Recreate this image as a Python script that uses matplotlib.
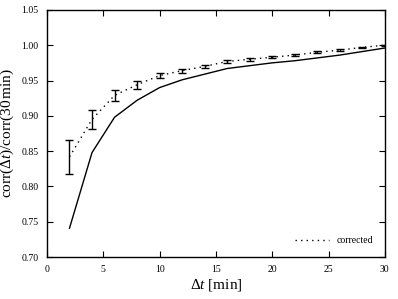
import matplotlib
matplotlib.use("Agg")
import matplotlib.pyplot as plt

dt = [2, 4, 6, 8, 10, 12, 14, 16, 18, 20, 22, 24, 26, 28, 30]
raw = [0.741, 0.848, 0.898, 0.922, 0.940, 0.951, 0.959, 0.967, 0.971, 0.975, 0.978, 0.982, 0.986, 0.991, 0.996]
corrected = [0.842, 0.895, 0.929, 0.944, 0.957, 0.964, 0.970, 0.977, 0.980, 0.983, 0.986, 0.990, 0.993, 0.997, 1.000]
err = [0.024, 0.013, 0.008, 0.0055, 0.004, 0.003, 0.0025, 0.002, 0.002, 0.0018, 0.0015, 0.0013, 0.001, 0.001, 0.0005]

plt.rcParams['font.family'] = ['Liberation Serif', 'DejaVu Serif']
plt.rcParams['mathtext.fontset'] = 'custom'
plt.rcParams['mathtext.rm'] = 'Liberation Serif'
plt.rcParams['mathtext.it'] = 'Liberation Serif:italic'

fig = plt.figure(figsize=(3.98, 2.99), dpi=100)
ax = fig.add_axes([0.118, 0.140, 0.849, 0.827])

ax.plot(dt, raw, color='black', lw=1.0, ls='-')
ax.plot(dt, corrected, color='black', lw=1.0, ls=(0, (1, 3)), label='corrected')
ax.errorbar(dt, corrected, yerr=err, fmt='none', ecolor='black', elinewidth=1.0, capsize=3, capthick=1.0)

ax.set_xlim(0, 30)
ax.set_ylim(0.70, 1.05)
ax.set_xticks([0, 5, 10, 15, 20, 25, 30])
ax.set_yticks([0.70, 0.75, 0.80, 0.85, 0.90, 0.95, 1.00, 1.05])
ax.set_yticklabels(['0.70', '0.75', '0.80', '0.85', '0.90', '0.95', '1.00', '1.05'])
ax.tick_params(direction='in', top=True, right=True, labelsize=7, length=4, width=0.8, pad=6)
for s in ax.spines.values():
    s.set_linewidth(1.0)

ax.set_xlabel(r'$\Delta t$ [min]', fontsize=11, labelpad=2)
ax.set_ylabel(r'$\mathrm{corr}(\Delta t)/\mathrm{corr}(30\,\mathrm{min})$', fontsize=11, labelpad=4)

ax.legend(loc='lower right', frameon=False, fontsize=7, handlelength=3.5, borderaxespad=0.8)

fig.savefig('out.png', dpi=100)
